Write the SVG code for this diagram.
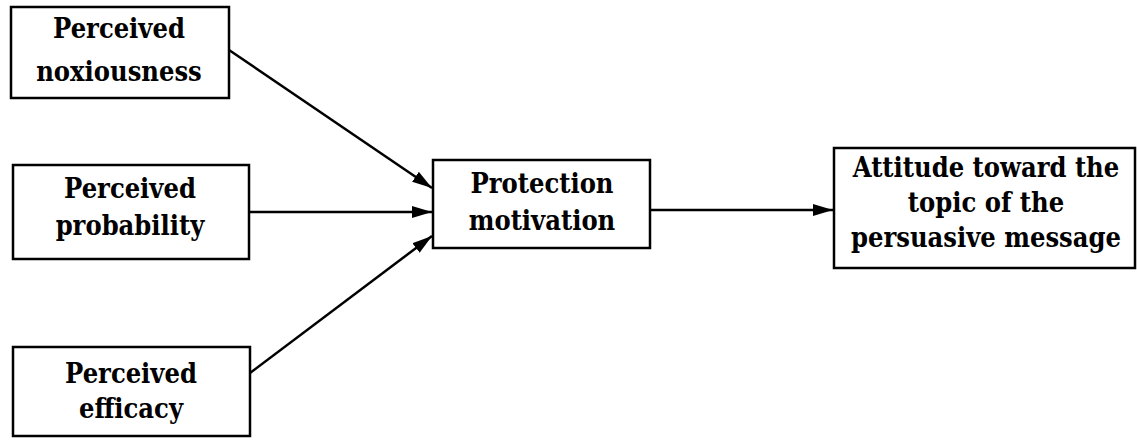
<svg xmlns="http://www.w3.org/2000/svg" width="1137" height="444" viewBox="0 0 1137 444">
  <style>
    .box { fill: #fff; stroke: #000; stroke-width: 2.5; }
    .lbl { font-family: "DejaVu Serif Condensed", "DejaVu Serif", serif; font-stretch: condensed; font-weight: bold; font-size: 27px; fill: #000; text-anchor: middle; }
    .edge { stroke: #000; stroke-width: 2.5; fill: none; marker-end: url(#head); }
  </style>
  <defs>
    <marker id="head" viewBox="0 0 20 12" refX="20" refY="6" markerWidth="20" markerHeight="12" markerUnits="userSpaceOnUse" orient="auto">
      <path d="M0,0 L20,6 L0,12 Z" fill="#000"/>
    </marker>
  </defs>
  <rect width="1137" height="444" fill="#fff"/>

  <g id="connectors">
    <line class="edge" x1="229" y1="50" x2="432" y2="188"/>
    <line class="edge" x1="249" y1="212" x2="432" y2="212"/>
    <line class="edge" x1="250" y1="373" x2="432" y2="236"/>
    <line class="edge" x1="650" y1="210" x2="833" y2="210"/>
  </g>

  <g id="noxiousness">
    <rect class="box" x="11" y="7" width="218" height="91"/>
    <text class="lbl" x="119" y="38">Perceived</text>
    <text class="lbl" x="119" y="81">noxiousness</text>
  </g>

  <g id="probability">
    <rect class="box" x="13" y="165" width="236" height="94"/>
    <text class="lbl" x="130" y="198">Perceived</text>
    <text class="lbl" x="130" y="235">probability</text>
  </g>

  <g id="efficacy">
    <rect class="box" x="13" y="347" width="237" height="89"/>
    <text class="lbl" x="131" y="383">Perceived</text>
    <text class="lbl" x="131" y="418">efficacy</text>
  </g>

  <g id="protection">
    <rect class="box" x="433" y="160" width="217" height="88"/>
    <text class="lbl" x="542" y="193">Protection</text>
    <text class="lbl" x="542" y="230">motivation</text>
  </g>

  <g id="attitude">
    <rect class="box" x="834" y="148" width="301" height="120"/>
    <text class="lbl" x="986" y="177">Attitude toward the</text>
    <text class="lbl" x="986" y="212">topic of the</text>
    <text class="lbl" x="986" y="247">persuasive message</text>
  </g>
</svg>
